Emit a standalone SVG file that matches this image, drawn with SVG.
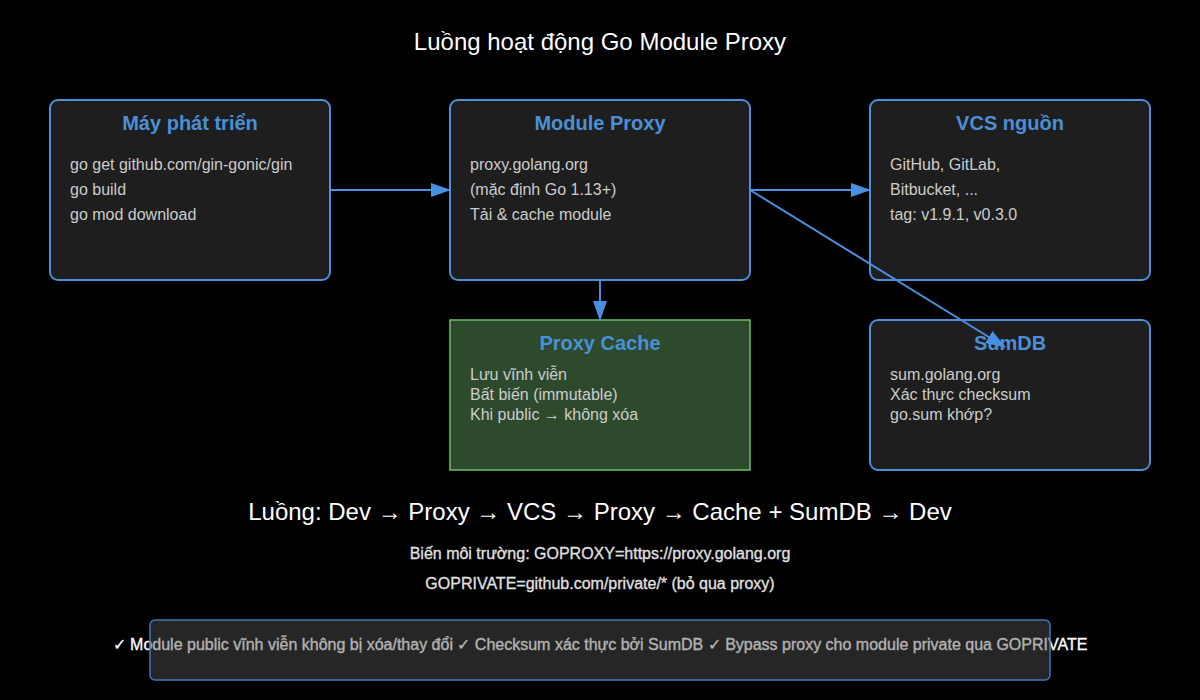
<svg xmlns="http://www.w3.org/2000/svg" width="1200" height="700" viewBox="0 0 1200 700">
<defs>
<marker id="arr" markerWidth="20" markerHeight="14" refX="19" refY="7" orient="auto" markerUnits="userSpaceOnUse">
<path d="M0,0 L20,7 L0,14 Z" fill="#4a90e2"/>
</marker>
<style>
.box{fill:#1e1e1e;stroke:#4a90d9;stroke-width:2}
.title{font-family:"Liberation Sans",Arial,sans-serif;font-size:20px;font-weight:bold;fill:#4a90d9;text-anchor:middle}
.txt{font-family:"Liberation Sans",Arial,sans-serif;font-size:16px;fill:#cccccc}
.conn{stroke:#4a90e2;stroke-width:2;fill:none;marker-end:url(#arr)}
.sans{font-family:"Liberation Sans",Arial,sans-serif}
</style>
</defs>
<rect width="1200" height="700" fill="#000"/>
<text x="600" y="50" class="sans" font-size="24" fill="#fff" text-anchor="middle">Luồng hoạt động Go Module Proxy</text>

<g id="dev">
<rect class="box" x="50" y="100" width="280" height="180" rx="8"/>
<text class="title" x="190" y="130">Máy phát triển</text>
<text class="txt" x="70" y="170">go get github.com/gin-gonic/gin</text>
<text class="txt" x="70" y="195">go build</text>
<text class="txt" x="70" y="220">go mod download</text>
</g>

<g id="proxy">
<rect class="box" x="450" y="100" width="300" height="180" rx="8"/>
<text class="title" x="600" y="130">Module Proxy</text>
<text class="txt" x="470" y="170">proxy.golang.org</text>
<text class="txt" x="470" y="195">(mặc định Go 1.13+)</text>
<text class="txt" x="470" y="220">Tải &amp; cache module</text>
</g>

<g id="vcs">
<rect class="box" x="870" y="100" width="280" height="180" rx="8"/>
<text class="title" x="1010" y="130">VCS nguồn</text>
<text class="txt" x="890" y="170">GitHub, GitLab,</text>
<text class="txt" x="890" y="195">Bitbucket, ...</text>
<text class="txt" x="890" y="220">tag: v1.9.1, v0.3.0</text>
</g>

<g id="cache">
<rect x="450" y="320" width="300" height="150" fill="#2d4a2d" stroke="#6abf69" stroke-width="1.5"/>
<text class="title" x="600" y="350">Proxy Cache</text>
<text class="txt" x="470" y="380">Lưu vĩnh viễn</text>
<text class="txt" x="470" y="400">Bất biến (immutable)</text>
<text class="txt" x="470" y="420">Khi public → không xóa</text>
</g>

<g id="sumdb">
<rect class="box" x="870" y="320" width="280" height="150" rx="8"/>
<text class="title" x="1010" y="350">SumDB</text>
<text class="txt" x="890" y="380">sum.golang.org</text>
<text class="txt" x="890" y="400">Xác thực checksum</text>
<text class="txt" x="890" y="420">go.sum khớp?</text>
</g>

<g id="connectors">
<line class="conn" x1="330" y1="190" x2="450" y2="190"/>
<line class="conn" x1="750" y1="190" x2="870" y2="190"/>
<line class="conn" x1="600" y1="280" x2="600" y2="320"/>
<line class="conn" x1="750" y1="190" x2="1005" y2="347"/>
</g>

<text x="600" y="520" class="sans" font-size="24" fill="#fff" text-anchor="middle">Luồng: Dev → Proxy → VCS → Proxy → Cache + SumDB → Dev</text>
<text x="600" y="559" class="sans" font-size="16" fill="#e0e0e0" stroke="#e0e0e0" stroke-width="0.3" text-anchor="middle">Biến môi trường: GOPROXY=https://proxy.golang.org</text>
<text x="600" y="589" class="sans" font-size="16" fill="#e0e0e0" stroke="#e0e0e0" stroke-width="0.3" text-anchor="middle">GOPRIVATE=github.com/private/* (bỏ qua proxy)</text>

<g id="summary">
<text x="600" y="650" class="sans" font-size="16" fill="#fff" stroke="#fff" stroke-width="0.3" text-anchor="middle">✓ Module public vĩnh viễn không bị xóa/thay đổi ✓ Checksum xác thực bởi SumDB ✓ Bypass proxy cho module private qua GOPRIVATE</text>
<rect x="150" y="620" width="900" height="60" rx="5" fill="#555" fill-opacity="0.45" stroke="#3f78b8" stroke-width="1.5"/>
</g>
</svg>
